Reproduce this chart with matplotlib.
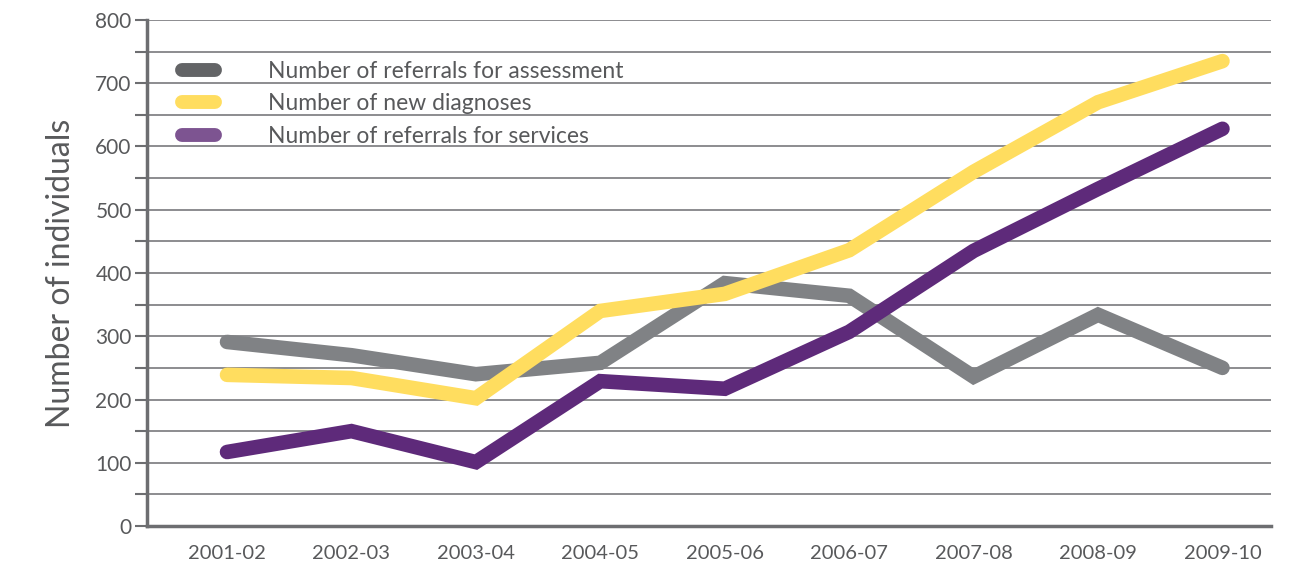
import matplotlib.pyplot as plt
from matplotlib.lines import Line2D
from matplotlib.ticker import MultipleLocator

plt.rcParams['font.family'] = ['Lato', 'DejaVu Sans']

# data
years = ['2001-02', '2002-03', '2003-04', '2004-05', '2005-06',
         '2006-07', '2007-08', '2008-09', '2009-10']
assessment = [291, 270, 240, 258, 384, 364, 236, 334, 250]
diagnoses = [239, 234, 202, 340, 367, 436, 560, 670, 735]
services = [117, 150, 101, 229, 217, 307, 435, 533, 628]

labels = ['Number of referrals for assessment',
          'Number of new diagnoses',
          'Number of referrals for services']
line_colors = ['#808285', '#FFDD5F', '#5E2A7A']
legend_colors = ['#636466', '#FFDD5F', '#7D5491']
text_color = '#58595B'

fig = plt.figure(figsize=(12.93, 5.69), dpi=100)
ax = fig.add_axes([147 / 1293, 1 - 526 / 569, (1271 - 147) / 1293, (526 - 20) / 569])

x = list(range(len(years)))
for vals, c in zip([assessment, diagnoses, services], line_colors):
    ax.plot(x, vals, color=c, linewidth=10.5, solid_capstyle='round',
            solid_joinstyle='miter', zorder=3)

ax.set_xlim(-0.643, 8.39)
ax.set_ylim(0, 800)
ax.yaxis.set_major_locator(MultipleLocator(100))
ax.yaxis.set_minor_locator(MultipleLocator(50))
ax.grid(axis='y', which='both', color='#6D6E71', linewidth=1.1, zorder=1)

ax.set_xticks(x)
ax.set_xticklabels(years, fontsize=14.5, color=text_color)
ax.tick_params(axis='x', length=0, pad=14)
ax.tick_params(axis='y', which='both', length=9, width=1.5, color='#6D6E71',
               labelsize=15, labelcolor=text_color, pad=2)

for s in ['top', 'right']:
    ax.spines[s].set_visible(False)
for s in ['left', 'bottom']:
    ax.spines[s].set_color('#6D6E71')
    ax.spines[s].set_linewidth(2.5)

ax.set_ylabel('Number of individuals', fontsize=23, color=text_color, labelpad=14)

handles = [Line2D([0], [0], color=c, linewidth=10, solid_capstyle='round')
           for c in legend_colors]
leg = ax.legend(handles, labels, loc='upper left', bbox_to_anchor=(0.013, 0.96),
                frameon=False, fontsize=16.5, handlelength=1.45, handletextpad=2.3,
                labelspacing=0.5, labelcolor=text_color)

fig.savefig('out.png', dpi=100)
